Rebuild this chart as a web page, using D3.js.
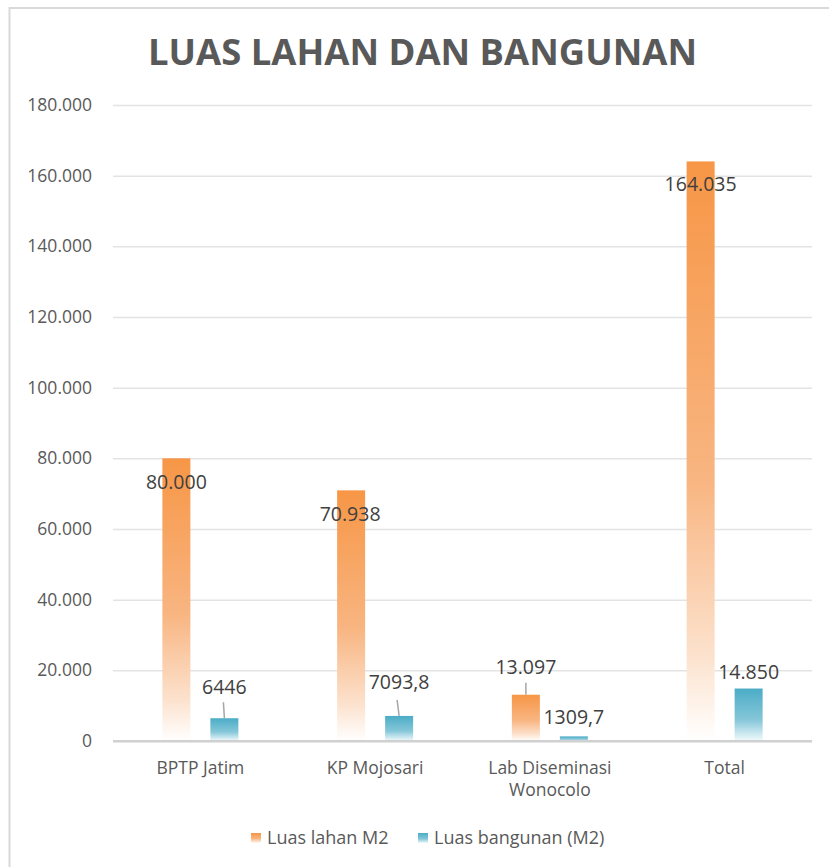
<!DOCTYPE html>
<html>
<head>
<meta charset="utf-8">
<script src="https://cdn.jsdelivr.net/npm/d3@7"></script>
<style>
  html, body { margin: 0; padding: 0; background: #fff; }
  svg { display: block; }
</style>
</head>
<body>
<script>
const categories = ["BPTP Jatim", "KP Mojosari", "Lab Diseminasi Wonocolo", "Total"];
const categoryLines = [["BPTP Jatim"], ["KP Mojosari"], ["Lab Diseminasi", "Wonocolo"], ["Total"]];
const seriesNames = ["Luas lahan M2", "Luas bangunan (M2)"];
const lahan = [80000, 70938, 13097, 164035];
const bangunan = [6446, 7093.8, 1309.7, 14850];
const lahanLabels = ["80.000", "70.938", "13.097", "164.035"];
const bangunanLabels = ["6446", "7093,8", "1309,7", "14.850"];
const yTicks = [0, 20000, 40000, 60000, 80000, 100000, 120000, 140000, 160000, 180000];
const title = "LUAS LAHAN DAN BANGUNAN";

const W = 829, H = 867;
const svg = d3.select("body").append("svg").attr("width", W).attr("height", H);

const defs = svg.append("defs");
function grad(id, stops) {
  const g = defs.append("linearGradient").attr("id", id)
    .attr("x1", 0).attr("y1", 0).attr("x2", 0).attr("y2", 1);
  stops.forEach(s => g.append("stop").attr("offset", s[0]).attr("stop-color", s[1]));
}
grad("gOrange", [[0, "#F79646"], [0.55, "#F8B581"], [0.85, "#FCE1CC"], [1, "#FFFFFF"]]);
grad("gTeal", [[0, "#4BACC6"], [0.6, "#86C7D9"], [1, "#F2FAFC"]]);

// chart border
svg.append("rect").attr("x", 9.5).attr("y", 8).attr("width", 900).attr("height", 900)
  .attr("fill", "none").attr("stroke", "#d9d9d9").attr("stroke-width", 2);

const font = "'Open Sans', 'Noto Sans', sans-serif";

svg.append("text").attr("x", 422.5).attr("y", 65).attr("text-anchor", "middle")
  .attr("font-family", font).attr("font-weight", 700).attr("font-size", 35)
  .attr("fill", "#595959").attr("textLength", 549).attr("lengthAdjust", "spacingAndGlyphs")
  .text(title);

const y = d3.scaleLinear().domain([0, 180000]).range([741, 105]);
const x = d3.scaleBand().domain(categories).range([113, 812]).paddingInner(0).paddingOuter(0);

// gridlines
const yAxis = d3.axisLeft(y).tickValues(yTicks)
  .tickSize(-(812 - 113))
  .tickFormat(d => d === 0 ? "0" : d3.format(",")(d).replace(/,/g, "."));
const gy = svg.append("g").attr("transform", "translate(113,0)").call(yAxis);
gy.select(".domain").remove();
gy.selectAll(".tick line").attr("stroke", d => d === 0 ? "#d0d0d0" : "#e3e3e3").attr("stroke-width", d => d === 0 ? 2 : 1.5);
gy.selectAll(".tick text").attr("x", -21).attr("font-family", font).attr("font-size", 17.5)
  .attr("fill", "#595959");

const bw = 28, off = 24;
const data = categories.map((c, i) => ({ c, i, l: lahan[i], b: bangunan[i] }));

svg.append("g").selectAll("rect").data(data).join("rect")
  .attr("x", d => x(d.c) + x.bandwidth() / 2 - off - bw / 2)
  .attr("y", d => y(d.l)).attr("width", bw).attr("height", d => y(0) - y(d.l))
  .attr("fill", "url(#gOrange)");
svg.append("g").selectAll("rect").data(data).join("rect")
  .attr("x", d => x(d.c) + x.bandwidth() / 2 + off - bw / 2)
  .attr("y", d => y(d.b)).attr("width", bw).attr("height", d => y(0) - y(d.b))
  .attr("fill", "url(#gTeal)");

// baseline redraw on top
svg.append("line").attr("x1", 113).attr("x2", 812).attr("y1", y(0)).attr("y2", y(0))
  .attr("stroke", "#d0d0d0").attr("stroke-width", 2);

// data labels (custom placements as in reference)
const lahanOff = [31, 31, -21, 30];
const bangOff = [-24, -27, -12, -10];
const lahanLeader = [false, false, true, false];
const bangLeader = [true, true, false, false];
const lbl = svg.append("g").attr("font-family", font).attr("font-size", 19.5).attr("fill", "#404040").attr("text-anchor", "middle");
data.forEach(d => {
  const cx = x(d.c) + x.bandwidth() / 2;
  const ox = cx - off, tx = cx + off;
  const lx = d.i === 1 ? ox - 1 : ox;
  lbl.append("text").attr("x", lx).attr("y", y(d.l) + lahanOff[d.i]).text(lahanLabels[d.i]);
  if (lahanLeader[d.i]) {
    svg.append("line").attr("x1", ox).attr("x2", ox).attr("y1", y(d.l) - 12).attr("y2", y(d.l))
      .attr("stroke", "#a6a6a6").attr("stroke-width", 1.5);
  }
  lbl.append("text").attr("x", tx).attr("y", y(d.b) + bangOff[d.i]).text(bangunanLabels[d.i]);
  if (bangLeader[d.i]) {
    svg.append("line").attr("x1", tx - (d.i === 1 ? 2 : 1)).attr("x2", tx).attr("y1", y(d.b) - 16).attr("y2", y(d.b))
      .attr("stroke", "#a6a6a6").attr("stroke-width", 1.5);
  }
});

// category labels
const cg = svg.append("g").attr("font-family", font).attr("font-size", 17.5).attr("fill", "#595959").attr("text-anchor", "middle");
categories.forEach((c, i) => {
  const t = cg.append("text").attr("x", x(c) + x.bandwidth() / 2).attr("y", 774);
  categoryLines[i].forEach((ln, k) => t.append("tspan").attr("x", x(c) + x.bandwidth() / 2).attr("dy", k === 0 ? 0 : 22).text(ln));
});

// legend
const lg = svg.append("g").attr("font-family", font).attr("font-size", 18).attr("fill", "#595959");
const legendX = [251, 418];
const legendFill = ["url(#gOrange)", "url(#gTeal)"];
seriesNames.forEach((s, i) => {
  lg.append("rect").attr("x", legendX[i]).attr("y", 833).attr("width", 10).attr("height", 10).attr("fill", legendFill[i]);
  lg.append("text").attr("x", legendX[i] + 16).attr("y", 844).text(s);
});
</script>
</body>
</html>
